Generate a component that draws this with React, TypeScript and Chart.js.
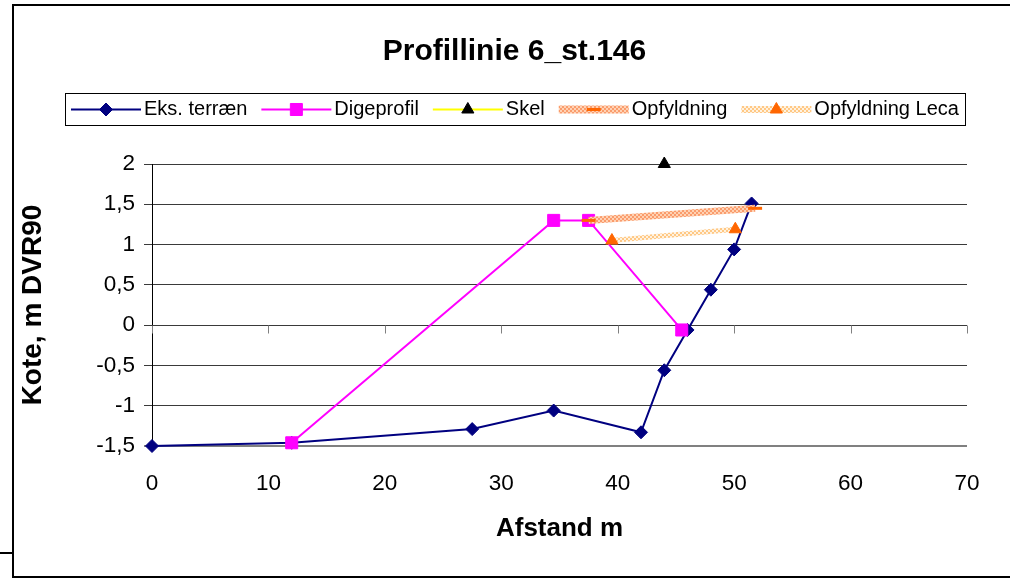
import React, { useEffect, useRef } from "react";
import { Chart, registerables } from "chart.js";
import { drawPoint } from "chart.js/helpers";

Chart.register(...registerables);

const FONT = '"Liberation Sans", Arial, Helvetica, sans-serif';

const chartTitle = "Profillinie 6_st.146";
const xAxisTitle = "Afstand m";
const yAxisTitle = "Kote, m DVR90";

const xTickValues = [0, 10, 20, 30, 40, 50, 60, 70];
const yTickValues = [-1.5, -1, -0.5, 0, 0.5, 1, 1.5, 2];

const seriesLabels = ["Eks. terræn", "Digeprofil", "Skel", "Opfyldning", "Opfyldning Leca"];

const eksTerraenX = [0, 12, 27.5, 34.5, 42, 44, 46, 48, 50, 51.5];
const eksTerraenY = [-1.5, -1.46, -1.29, -1.06, -1.33, -0.56, -0.06, 0.44, 0.94, 1.51];

const digeprofilX = [12, 34.5, 37.5, 45.5];
const digeprofilY = [-1.46, 1.3, 1.3, -0.06];

const skelX = [44];
const skelY = [2];

const opfyldningX = [37.5, 51.8];
const opfyldningY = [1.3, 1.45];

const lecaX = [39.5, 50.1];
const lecaY = [1.05, 1.19];

const toPoints = (xs: number[], ys: number[]) => xs.map((x, i) => ({ x, y: ys[i] }));

function makePattern(c1: string, c2: string) {
  const cv = document.createElement("canvas");
  cv.width = 4;
  cv.height = 4;
  const g = cv.getContext("2d")!;
  g.fillStyle = c1;
  g.fillRect(0, 0, 4, 4);
  g.fillStyle = c2;
  g.fillRect(0, 0, 2, 2);
  g.fillRect(2, 2, 2, 2);
  return g.createPattern(cv, "repeat")!;
}

const framePlugin = {
  id: "frame",
  afterDraw(chart: any) {
    const ctx = chart.ctx as CanvasRenderingContext2D;
    ctx.save();
    ctx.strokeStyle = "#000";
    ctx.lineWidth = 2;
    ctx.beginPath();
    ctx.moveTo(1010, 5);
    ctx.lineTo(13, 5);
    ctx.lineTo(13, 577);
    ctx.lineTo(1010, 577);
    ctx.moveTo(0, 553);
    ctx.lineTo(13, 553);
    ctx.stroke();
    ctx.restore();
  },
};

const titlePlugin = {
  id: "chartTitleText",
  afterDraw(chart: any) {
    const ctx = chart.ctx as CanvasRenderingContext2D;
    ctx.save();
    ctx.fillStyle = "#000";
    ctx.font = `bold 30px ${FONT}`;
    ctx.textAlign = "center";
    ctx.textBaseline = "middle";
    ctx.fillText(chartTitle, 514.5, 52);
    ctx.restore();
  },
};

const zeroAxisTicksPlugin = {
  id: "zeroAxisTicks",
  beforeDatasetsDraw(chart: any) {
    const ctx = chart.ctx as CanvasRenderingContext2D;
    const xs = chart.scales.x;
    const ys = chart.scales.y;
    const y0 = Math.round(ys.getPixelForValue(0)) + 0.5;
    ctx.save();
    ctx.strokeStyle = "#808080";
    ctx.lineWidth = 1;
    ctx.beginPath();
    xTickValues.forEach((v) => {
      const px = Math.round(xs.getPixelForValue(v)) + 0.5;
      ctx.moveTo(px, y0);
      ctx.lineTo(px, y0 + 8);
    });
    ctx.stroke();
    ctx.restore();
  },
};

const legendPlugin = {
  id: "boxLegend",
  afterDraw(chart: any) {
    const ctx = chart.ctx as CanvasRenderingContext2D;
    const datasets = chart.data.datasets;
    ctx.save();
    ctx.font = `20px ${FONT}`;
    const sampleW = 70;
    const textGap = 3;
    const itemGap = 14;
    const padX = 6;
    const widths = datasets.map((d: any) => ctx.measureText(d.label).width);
    const total =
      widths.reduce((a: number, b: number) => a + b, 0) +
      datasets.length * (sampleW + textGap) +
      (datasets.length - 1) * itemGap;
    const boxW = total + 2 * padX;
    const cx = 514.5;
    const left = Math.round(cx - boxW / 2);
    const top = 93;
    const h = 32;
    ctx.strokeStyle = "#000";
    ctx.lineWidth = 1;
    ctx.strokeRect(left + 0.5, top + 0.5, Math.round(boxW), h);
    const cy = top + h / 2 + 0.5;
    let x = left + padX;
    datasets.forEach((d: any, i: number) => {
      ctx.save();
      ctx.strokeStyle = d.borderColor;
      ctx.lineWidth = d.legendLineWidth || d.borderWidth;
      ctx.beginPath();
      ctx.moveTo(x, cy);
      ctx.lineTo(x + sampleW, cy);
      ctx.stroke();
      ctx.fillStyle = d.pointBackgroundColor;
      ctx.strokeStyle = d.pointBorderColor;
      ctx.lineWidth = d.pointBorderWidth;
      drawPoint(
        ctx,
        { pointStyle: d.pointStyle, radius: d.pointRadius, borderWidth: d.pointBorderWidth, rotation: 0 } as any,
        x + sampleW / 2,
        cy
      );
      ctx.restore();
      ctx.fillStyle = "#000";
      ctx.textBaseline = "middle";
      ctx.textAlign = "left";
      ctx.fillText(d.label, x + sampleW + textGap, cy);
      x += sampleW + textGap + widths[i] + itemGap;
    });
    ctx.restore();
  },
};

export default function App() {
  const canvasRef = useRef<HTMLCanvasElement | null>(null);

  useEffect(() => {
    document.body.style.margin = "0";
    const canvas = canvasRef.current!;
    const opfPattern = makePattern("#FFD2B4", "#FA9C6C");
    const lecaPattern = makePattern("#FFF2E0", "#FFC884");

    const chart = new Chart(canvas, {
      type: "scatter",
      data: {
        datasets: [
          {
            label: seriesLabels[0],
            data: toPoints(eksTerraenX, eksTerraenY),
            showLine: true,
            clip: false,
            borderColor: "#000080",
            borderWidth: 2,
            pointStyle: "rectRot",
            pointRadius: 6.5,
            pointBackgroundColor: "#000080",
            pointBorderColor: "#000080",
            pointBorderWidth: 1,
            order: 5,
          },
          {
            label: seriesLabels[1],
            data: toPoints(digeprofilX, digeprofilY),
            showLine: true,
            clip: false,
            borderColor: "#FF00FF",
            borderWidth: 2,
            pointStyle: "rect",
            pointRadius: 8.5,
            pointBackgroundColor: "#FF00FF",
            pointBorderColor: "#FF00FF",
            pointBorderWidth: 1,
            order: 4,
          },
          {
            label: seriesLabels[2],
            data: toPoints(skelX, skelY),
            showLine: true,
            clip: false,
            borderColor: "#FFFF00",
            borderWidth: 2,
            pointStyle: "triangle",
            pointRadius: 7,
            pointBackgroundColor: "#000000",
            pointBorderColor: "#000000",
            pointBorderWidth: 1,
            order: 3,
          },
          {
            label: seriesLabels[3],
            data: toPoints(opfyldningX, opfyldningY),
            showLine: true,
            clip: false,
            borderColor: opfPattern,
            borderWidth: 7,
            legendLineWidth: 8,
            pointStyle: "line",
            pointRadius: 7,
            pointBackgroundColor: "#FF6600",
            pointBorderColor: "#FF6600",
            pointBorderWidth: 3,
            order: 2,
          },
          {
            label: seriesLabels[4],
            data: toPoints(lecaX, lecaY),
            showLine: true,
            clip: false,
            borderColor: lecaPattern,
            borderWidth: 5,
            legendLineWidth: 7,
            pointStyle: "triangle",
            pointRadius: 7,
            pointBackgroundColor: "#FF6600",
            pointBorderColor: "#FF6600",
            pointBorderWidth: 1,
            order: 1,
          },
        ] as any,
      },
      options: {
        animation: false,
        responsive: false,
        maintainAspectRatio: false,
        devicePixelRatio: 1,
        layout: { padding: { top: 164, left: 0, right: 43, bottom: 0 } },
        elements: { line: { tension: 0 } },
        plugins: {
          legend: { display: false },
          tooltip: { enabled: false },
          title: { display: false },
        },
        scales: {
          x: {
            type: "linear",
            min: 0,
            max: 70,
            afterBuildTicks: (axis: any) => {
              axis.ticks = xTickValues.map((v) => ({ value: v }));
            },
            afterFit: (axis: any) => {
              axis.height = 133;
            },
            grid: { display: false, drawTicks: false },
            border: { display: false },
            ticks: {
              color: "#000",
              font: { family: FONT, size: 22.5 },
              padding: 24,
              maxRotation: 0,
              autoSkip: false,
            },
            title: {
              display: true,
              text: xAxisTitle,
              color: "#000",
              font: { family: FONT, size: 26, weight: "bold" },
              padding: { top: 0, bottom: 35 },
            },
          },
          y: {
            type: "linear",
            min: -1.5,
            max: 2,
            afterBuildTicks: (axis: any) => {
              axis.ticks = yTickValues.map((v) => ({ value: v }));
            },
            afterFit: (axis: any) => {
              axis.width = 152;
            },
            grid: {
              color: (c: any) => (c.tick && c.tick.value === -1.5 ? "#808080" : "#3a3a3a"),
              lineWidth: (c: any) => (c.tick && c.tick.value === -1.5 ? 2 : 1),
              tickLength: 8,
              drawTicks: true,
            },
            border: { display: true, color: "#000", width: 1 },
            ticks: {
              color: "#000",
              font: { family: FONT, size: 22.5 },
              padding: 9,
              callback: (v: any) => String(v).replace(".", ","),
            },
            title: {
              display: true,
              text: yAxisTitle,
              color: "#000",
              font: { family: FONT, size: 28, weight: "bold" },
              padding: { top: 16, bottom: 0 },
            },
          },
        },
      } as any,
      plugins: [zeroAxisTicksPlugin, legendPlugin, titlePlugin, framePlugin],
    });

    return () => {
      chart.destroy();
    };
  }, []);

  return (
    <div style={{ width: 1010, height: 579 }}>
      <canvas ref={canvasRef} width={1010} height={579} style={{ width: 1010, height: 579, display: "block" }} />
    </div>
  );
}
